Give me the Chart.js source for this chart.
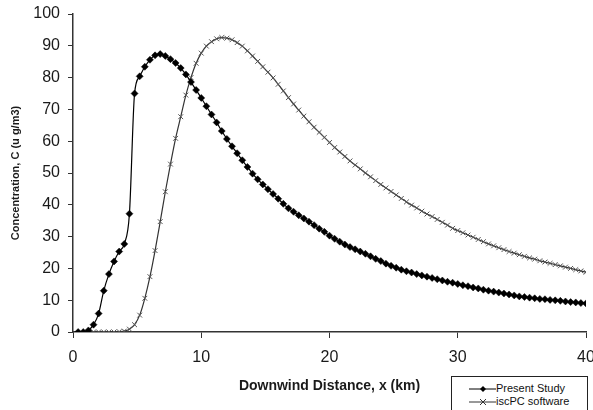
<!DOCTYPE html>
<html>
<head>
<meta charset="utf-8">
<script src="https://cdn.jsdelivr.net/npm/chart.js@4"></script>
<style>
  body { margin: 0; background: #fff; }
  #wrap { position: relative; width: 593px; height: 410px; overflow: hidden; }
  #legend {
    position: absolute; left: 451px; top: 376px; width: 135px; height: 40px;
    border: 1px solid #222; background: #fff;
    font: 11px "Liberation Sans", Arial, sans-serif; color: #111;
  }
  #legend div { height: 13px; line-height: 13px; display: flex; align-items: center; }
  #legend svg { margin-left: 17px; margin-right: 0; }
</style>
</head>
<body>
<div id="wrap">
  <canvas id="chart" width="593" height="410"></canvas>
  <div id="legend">
    <div style="margin-top:5px">
      <svg width="27" height="10"><line x1="0" y1="5" x2="27" y2="5" stroke="#000" stroke-width="1"/><path d="M11 5 L14 2 L17 5 L14 8 Z" fill="#000"/></svg>
      <span>Present Study</span>
    </div>
    <div>
      <svg width="27" height="10"><line x1="0" y1="5" x2="27" y2="5" stroke="#333" stroke-width="1"/><path d="M11 2 L17 8 M17 2 L11 8" stroke="#333" stroke-width="1"/></svg>
      <span>iscPC software</span>
    </div>
  </div>
</div>
<script>
// downwind distance (km) of each plotted point
const distance = [
  0.4, 0.8, 1.2, 1.6, 2.0, 2.4, 2.8, 3.2, 3.6, 4.0,
  4.4, 4.8, 5.2, 5.6, 6.0, 6.4, 6.8, 7.2, 7.6, 8.0,
  8.4, 8.8, 9.2, 9.6, 10.0, 10.4, 10.8, 11.2, 11.6, 12.0,
  12.4, 12.8, 13.2, 13.6, 14.0, 14.4, 14.8, 15.2, 15.6, 16.0,
  16.4, 16.8, 17.2, 17.6, 18.0, 18.4, 18.8, 19.2, 19.6, 20.0,
  20.4, 20.8, 21.2, 21.6, 22.0, 22.4, 22.8, 23.2, 23.6, 24.0,
  24.4, 24.8, 25.2, 25.6, 26.0, 26.4, 26.8, 27.2, 27.6, 28.0,
  28.4, 28.8, 29.2, 29.6, 30.0, 30.4, 30.8, 31.2, 31.6, 32.0,
  32.4, 32.8, 33.2, 33.6, 34.0, 34.4, 34.8, 35.2, 35.6, 36.0,
  36.4, 36.8, 37.2, 37.6, 38.0, 38.4, 38.8, 39.2, 39.6, 40.0
];

// concentration (u g/m3), present study
const presentStudy = [
  0, 0, 0.5, 2.3, 5.8, 13.0, 18.2, 22.2, 25.3, 27.7,
  37.2, 75.0, 80.4, 83.4, 85.6, 87.0, 87.4, 86.8, 85.8, 84.6,
  83.0, 81.0, 78.6, 76.1, 73.6, 71.0, 68.4, 65.9, 63.2, 60.7,
  58.4, 56.2, 54.0, 51.9, 49.8, 48.0, 46.4, 44.9, 43.4, 41.9,
  40.3, 38.9, 37.8, 36.7, 35.7, 34.7, 33.6, 32.5, 31.5, 30.3,
  29.3, 28.4, 27.5, 26.7, 26.0, 25.3, 24.6, 23.8, 23.0, 22.3,
  21.5, 20.8, 20.2, 19.6, 19.1, 18.7, 18.2, 17.8, 17.4, 17.0,
  16.6, 16.2, 15.8, 15.5, 15.1, 14.7, 14.4, 14.0, 13.7, 13.3,
  13.0, 12.7, 12.4, 12.1, 11.8, 11.5, 11.2, 11.0, 10.8, 10.6,
  10.4, 10.3, 10.1, 9.95, 9.8, 9.6, 9.4, 9.3, 9.1, 9.0
];

// concentration (u g/m3), iscPC software
const iscPC = [
  null, null, 0, 0, 0, 0, 0, 0, 0.1, 0.3,
  0.9, 2.3, 5.3, 10.6, 17.4, 25.6, 34.7, 44.1, 52.8, 60.9,
  67.7, 74.5, 80.0, 84.5, 87.7, 89.9, 91.3, 92.2, 92.6, 92.4,
  91.9, 91.0, 89.9, 88.4, 86.8, 85.1, 83.4, 81.7, 79.9, 77.9,
  75.8, 73.7, 71.7, 69.8, 67.9, 66.1, 64.4, 62.8, 61.2, 59.6,
  58.0, 56.6, 55.2, 53.8, 52.5, 51.3, 50.0, 48.8, 47.6, 46.4,
  45.3, 44.2, 43.1, 42.0, 40.9, 39.9, 39.0, 38.0, 37.1, 36.3,
  35.4, 34.5, 33.6, 32.6, 31.9, 31.2, 30.5, 29.8, 29.1, 28.4,
  27.7, 27.1, 26.5, 25.9, 25.3, 24.8, 24.3, 23.8, 23.3, 22.9,
  22.4, 22.0, 21.6, 21.2, 20.8, 20.4, 20.0, 19.6, 19.2, 18.8
];

const xTicks = [0, 10, 20, 30, 40];
const yTicks = [0, 10, 20, 30, 40, 50, 60, 70, 80, 90, 100];

const tickFont = { family: "'Liberation Sans', Arial, sans-serif", size: 16 };
const titleFont = { family: "'Liberation Sans', Arial, sans-serif", weight: 'bold' };

new Chart(document.getElementById('chart'), {
  type: 'line',
  data: {
    datasets: [
      {
        label: 'Present Study',
        data: distance.map((x, i) => ({ x: x, y: presentStudy[i] })),
        borderColor: '#000',
        backgroundColor: '#000',
        borderWidth: 1.2,
        pointStyle: 'rectRot',
        pointRadius: 3.5,
        pointBorderWidth: 0.5,
        cubicInterpolationMode: 'monotone'
      },
      {
        label: 'iscPC software',
        data: distance.map((x, i) => ({ x: x, y: iscPC[i] })),
        borderColor: '#333',
        backgroundColor: '#333',
        borderWidth: 1.2,
        pointStyle: 'crossRot',
        pointRadius: 3.4,
        pointBorderColor: '#555',
        pointBorderWidth: 1,
        cubicInterpolationMode: 'monotone'
      }
    ]
  },
  options: {
    responsive: false,
    animation: false,
    layout: { padding: { top: 14, right: 7, left: 0, bottom: 0 } },
    plugins: {
      legend: { display: false },
      tooltip: { enabled: false }
    },
    scales: {
      x: {
        type: 'linear',
        min: 0,
        max: 40,
        afterFit: (scale) => { scale.height = 78; scale.paddingRight = 0; scale.paddingLeft = 0; },
        afterBuildTicks: (scale) => { scale.ticks = xTicks.map((v) => ({ value: v })); },
        grid: { drawOnChartArea: false, drawTicks: true, tickLength: 6, color: '#333' },
        border: { display: true, color: '#333', width: 1.5 },
        ticks: { font: tickFont, color: '#1a1a1a', padding: 10, maxRotation: 0 },
        title: {
          display: true,
          text: 'Downwind Distance, x (km)',
          font: { ...titleFont, size: 14 },
          color: '#1a1a1a',
          padding: { top: 0, bottom: 15 }
        }
      },
      y: {
        min: 0,
        max: 100,
        afterFit: (scale) => { scale.width = 73; scale.paddingTop = 0; scale.paddingBottom = 0; },
        afterBuildTicks: (scale) => { scale.ticks = yTicks.map((v) => ({ value: v })); },
        grid: { drawOnChartArea: false, drawTicks: true, tickLength: 5, color: '#333' },
        border: { display: true, color: '#333', width: 1.5 },
        ticks: { font: tickFont, color: '#1a1a1a', padding: 8 },
        title: {
          display: true,
          text: 'Concentration, C (u g/m3)',
          font: { ...titleFont, size: 11 },
          color: '#1a1a1a',
          padding: { top: 9, bottom: 0 }
        }
      }
    }
  }
});
</script>
</body>
</html>
